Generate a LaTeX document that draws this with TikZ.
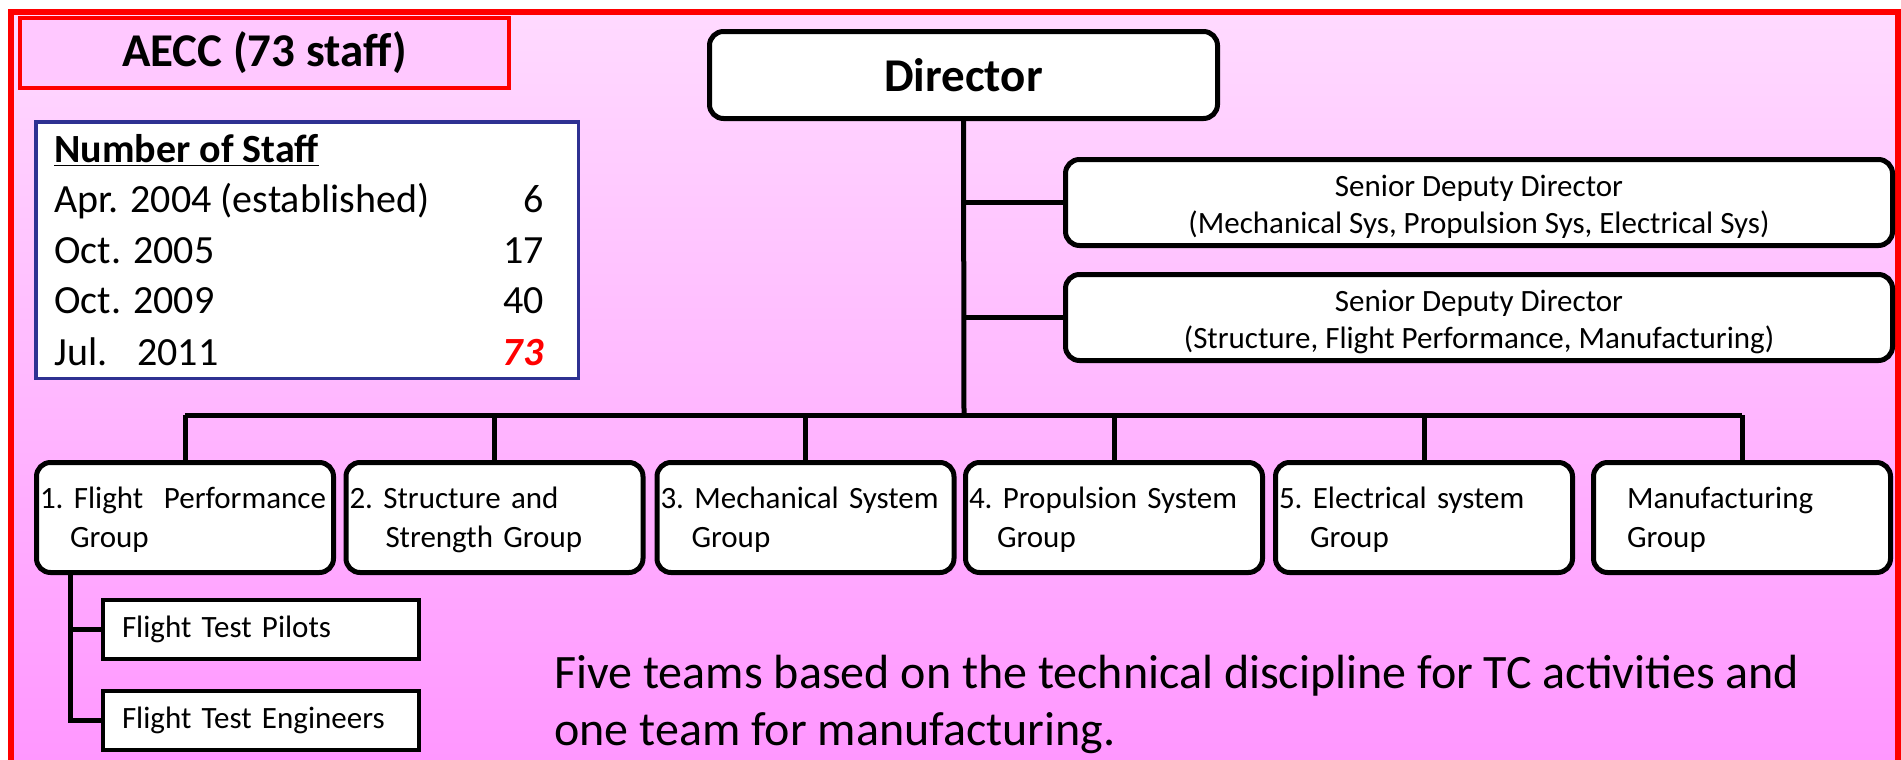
\documentclass[tikz,border=0pt]{standalone}
\usepackage{fontspec}
\setmainfont{Carlito}
\definecolor{bgtop}{RGB}{255,218,255}
\definecolor{bgbot}{RGB}{255,150,255}
\definecolor{aeccfill}{RGB}{255,200,255}
\definecolor{navy}{RGB}{46,49,146}
\newcommand{\topstrut}[1]{\rule{0pt}{#1}}
\begin{document}
\begin{tikzpicture}[x=0.5pt,y=-0.5pt,
  conn/.style={line width=2.5pt, draw=black},
  rbox/.style={draw=black, line width=2.5pt, fill=white, rounded corners=7pt},
  groupbox/.style={rbox, minimum width=148.5pt, minimum height=55pt, text width=145pt,
    inner xsep=1.75pt, inner ysep=0pt, align=left, font=\fontsize{15.5}{19.5}\selectfont},
  sddbox/.style={rbox, minimum width=413.5pt, minimum height=43pt, align=center,
    font=\fontsize{15.5}{18.5}\selectfont},
  dirbox/.style={rbox, minimum width=254pt, minimum height=43.5pt, font=\fontsize{23.5}{27}\selectfont\bfseries},
  subbox/.style={draw=black, line width=2pt, fill=white, minimum width=158pt, minimum height=29.5pt,
    text width=139pt, inner xsep=9.5pt, align=left, font=\fontsize{15.5}{19}\selectfont},
  titlebox/.style={draw=red, line width=2pt, fill=aeccfill, minimum width=244.5pt, minimum height=35pt,
    font=\fontsize{23.5}{27}\selectfont\bfseries},
  staffbox/.style={draw=navy, line width=1.75pt, fill=white, minimum width=271.25pt, minimum height=128.25pt},
  stafftxt/.style={inner sep=0pt, font=\fontsize{20}{24}\selectfont},
  bigtxt/.style={inner sep=0pt, font=\fontsize{24}{28}\selectfont}
]
\useasboundingbox (0,0) rectangle (1901,760);
\clip (0,0) rectangle (1901,760);
\fill[white] (0,0) rectangle (1901,760);
\shade[top color=bgtop, bottom color=bgbot] (11,11.5) rectangle (1898,770);
\draw[red, line width=3pt] (11,780) -- (11,11.5) -- (1898,11.5) -- (1898,780);

% title and staff table
\node[titlebox] (aecc) at (264.5,53) {AECC (73 staff)};
\node[staffbox] (staff) at (307,250) {};
\node[stafftxt, anchor=base west] (s0) at (54,162) {\textbf{\underline{Number of Staff}}};
\node[stafftxt, anchor=base west] (s1) at (54,212) {Apr. 2004 (established)};
\node[stafftxt, anchor=base west] (s2) at (54,263) {Oct. 2005};
\node[stafftxt, anchor=base west] (s3) at (54,313) {Oct. 2009};
\node[stafftxt, anchor=base west] (s4) at (54,365) {Jul.\hspace{15pt}2011};
\node[stafftxt, anchor=base east] (v1) at (544,212) {6};
\node[stafftxt, anchor=base east] (v2) at (544,263) {17};
\node[stafftxt, anchor=base east] (v3) at (544,313) {40};
\node[stafftxt, anchor=base east, text=red] (v4) at (544,365) {\textbf{\textit{73}}};

% hierarchy
\node[dirbox] (dir) at (963.5,75) {Director};
\node[sddbox] (sdd1) at (1479,202.5) {\topstrut{15pt}Senior Deputy Director\\(Mechanical Sys, Propulsion Sys, Electrical Sys)};
\node[sddbox] (sdd2) at (1479,317.5) {\topstrut{15pt}Senior Deputy Director\\(Structure, Flight Performance, Manufacturing)};

\node[groupbox] (g1) at (185,517.5) {\topstrut{13pt}\mbox{1.~Flight~~Performance}\\\hspace*{15pt}Group};
\node[groupbox] (g2) at (494.5,517.5) {\topstrut{13pt}2.~Structure and\\\hspace*{18pt}Strength Group};
\node[groupbox] (g3) at (805.5,517.5) {\topstrut{13pt}3.~Mechanical System\\\hspace*{15.5pt}Group};
\node[groupbox] (g4) at (1114,517.5) {\topstrut{13pt}4.~Propulsion System\\\hspace*{14pt}Group};
\node[groupbox] (g5) at (1424,517.5) {\topstrut{13pt}5.~Electrical system\\\hspace*{15.5pt}Group};
\node[groupbox] (g6) at (1742,517.5) {\topstrut{13pt}\hspace*{15pt}Manufacturing\\\hspace*{15pt}Group};

\node[subbox] (pil) at (261,629.5) {Flight Test Pilots};
\node[subbox] (fte) at (261,720) {Flight Test Engineers};

\coordinate (bus) at (964,415);
\draw[conn] (dir.south) -- (bus);
\draw[conn] (dir.south |- sdd1.west) -- (sdd1.west);
\draw[conn] (dir.south |- sdd2.west) -- (sdd2.west);
\draw[conn] (g1.north |- bus) -- (g6.north |- bus);
\foreach \g in {g1,g2,g3,g4,g5,g6} {
  \draw[conn] (\g.north |- bus) -- (\g.north);
}
\coordinate (sub) at ([xshift=18pt]g1.south west);
\draw[conn] (sub) |- (fte.west);
\draw[conn] (sub |- pil.west) -- (pil.west);

\node[bigtxt, anchor=base west] (ft1) at (554,688) {Five teams based on the technical discipline for TC activities and};
\node[bigtxt, anchor=base west] (ft2) at (554,745) {one team for manufacturing.};
\end{tikzpicture}
\end{document}
